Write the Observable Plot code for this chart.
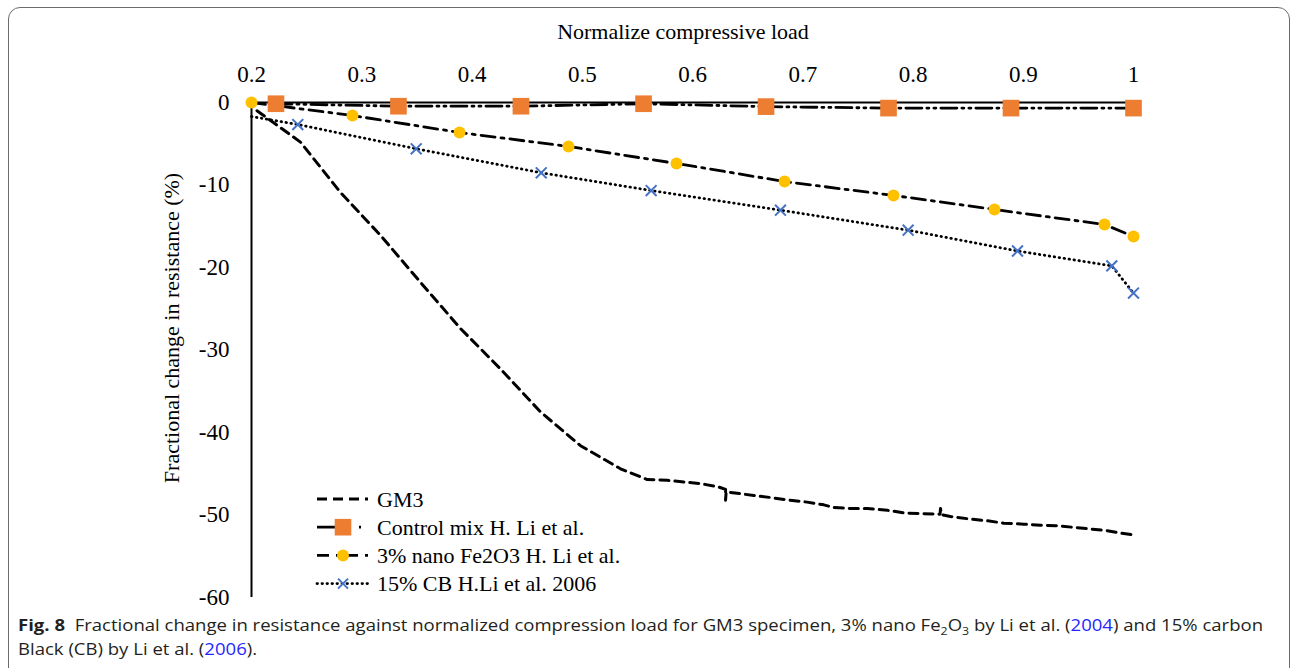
<!DOCTYPE html>
<html><head><meta charset="utf-8">
<script src="https://cdn.jsdelivr.net/npm/d3@7"></script>
<script src="https://cdn.jsdelivr.net/npm/@observablehq/plot@0.6"></script>
<style>
body{margin:0;background:#fff;}
#wrap{position:relative;width:1292px;height:668px;overflow:hidden;background:#fff;}
#frame{position:absolute;left:8px;top:7px;width:1282px;height:720px;border:1.5px solid #6b6b6b;border-radius:12px;box-sizing:border-box;}
#chart{position:absolute;left:0;top:0;}
.serif{font-family:'Liberation Serif','Times New Roman',serif;font-size:22px;color:#000;line-height:22px;white-space:nowrap;}
#xtitle{position:absolute;left:683px;top:21px;transform:translateX(-50%);}
#ytitle{position:absolute;left:172px;top:328px;transform:translate(-50%,-50%) rotate(-90deg);}
#legend{position:absolute;left:310px;top:482px;}
#caption{position:absolute;left:18px;top:613px;font-family:'Open Sans','Noto Sans',sans-serif;font-size:16.5px;line-height:24px;color:#231f20;white-space:nowrap;transform-origin:0 0;}
#caption a{color:#2626ff;text-decoration:none;}
#caption sub{font-size:11px;line-height:0;vertical-align:-4px;}
</style></head><body>
<div id="wrap">
  <div id="frame"></div>
  <div id="chart"></div>
  <div id="xtitle" class="serif">Normalize compressive load</div>
  <div id="ytitle" class="serif">Fractional change in resistance (%)</div>
  <div id="legend"></div>
  <div id="caption"><span id="cap1"><b>Fig. 8</b>&nbsp; Fractional change in resistance against normalized compression load for GM3 specimen, 3% nano Fe<sub>2</sub>O<sub>3</sub> by Li et al. (<a>2004</a>) and 15% carbon</span><br>Black (CB) by Li et al. (<a>2006</a>).</div>
</div>
<script>
// ---- data ----
const xTicks = [0.2, 0.3, 0.4, 0.5, 0.6, 0.7, 0.8, 0.9, 1];
const yTicks = [0, -10, -20, -30, -40, -50, -60];

const seriesNames = ["GM3", "Control mix H. Li et al.", "3% nano Fe2O3 H. Li et al.", "15% CB H.Li et al. 2006"];

// GM3 (dashed line, no markers)
const gm3X = [0.205, 0.2444, 0.2807, 0.317, 0.3533, 0.3896, 0.4259, 0.4621, 0.4984, 0.5347, 0.5589, 0.5771, 0.5921, 0.6073, 0.6224, 0.630, 0.630, 0.6305, 0.6405, 0.6556, 0.6707, 0.6859, 0.704, 0.7191, 0.7282, 0.7433, 0.7585, 0.7766, 0.7917, 0.8098, 0.8245, 0.825, 0.8255, 0.834, 0.8522, 0.8673, 0.8824, 0.9005, 0.9156, 0.9308, 0.9459, 0.961, 0.9761, 0.9882, 1.0];
const gm3Y = [-1.0, -4.8, -10.9, -16.1, -21.8, -27.4, -32.3, -37.5, -41.6, -44.4, -45.7, -45.8, -46.0, -46.2, -46.55, -46.9, -48.2, -47.2, -47.36, -47.64, -47.88, -48.16, -48.44, -48.77, -49.1, -49.21, -49.21, -49.42, -49.75, -49.84, -49.9, -49.2, -49.95, -50.18, -50.5, -50.7, -50.99, -51.11, -51.24, -51.3, -51.5, -51.7, -51.9, -52.2, -52.4];

// Control mix (square markers, long-dash-dot-dot line)
const ctrlX = [0.2222, 0.3333, 0.4444, 0.5556, 0.6667, 0.7778, 0.8889, 1.0];
const ctrlY = [-0.15, -0.45, -0.45, -0.15, -0.5, -0.68, -0.68, -0.68];

// 3% nano Fe2O3 (circle markers, dash-dot line)
const nanoX = [0.2, 0.2916, 0.3887, 0.4875, 0.5855, 0.6835, 0.7823, 0.8739, 0.9737, 1.0];
const nanoY = [0, -1.58, -3.64, -5.33, -7.39, -9.58, -11.27, -12.97, -14.79, -16.24];

// 15% CB (x markers, dotted line); first point is the line start without a marker
const cbX = [0.2, 0.242, 0.3494, 0.4628, 0.5625, 0.6798, 0.7956, 0.8948, 0.9803, 1.0];
const cbY = [-1.7, -2.67, -5.61, -8.52, -10.67, -13.05, -15.48, -18.0, -19.8, -23.1];

const colors = {ctrl: "#ED7D31", nano: "#FFC000", cb: "#4472C4"};
const dashes = {gm3: "9,6", ctrl: "16,5,2,5,2,5", nano: "14,6,3,6", cb: "0.5,4.5"};
const serifFont = "Liberation Serif";

const toRows = (xs, ys) => xs.map((x, i) => ({x, y: ys[i]}));
const gm3 = toRows(gm3X, gm3Y);
const ctrl = toRows(ctrlX, ctrlY);
const nano = toRows(nanoX, nanoY);
const cb = toRows(cbX, cbY);

const chart = Plot.plot({
  width: 1292, height: 610,
  marginLeft: 251, marginRight: 159, marginTop: 102, marginBottom: 13,
  style: {fontFamily: serifFont, fontSize: "23px", color: "#000", background: "transparent", overflow: "visible"},
  x: {domain: [0.2, 1]},
  y: {domain: [-60, 0]},
  marks: [
    Plot.axisX({anchor: "top", ticks: xTicks, tickFormat: d => String(+d.toFixed(1)), tickSize: 0, tickPadding: 21, label: null, fontFamily: serifFont, fontSize: 23, fontVariant: "normal"}),
    Plot.axisY({ticks: yTicks, tickFormat: d => String(d), tickSize: 0, tickPadding: 22, label: null, fontFamily: serifFont, fontSize: 23, fontVariant: "normal"}),
    Plot.ruleY([0], {stroke: "#000", strokeWidth: 2}),
    Plot.ruleX([0.2], {stroke: "#000", strokeWidth: 2}),
    Plot.line(gm3, {x: "x", y: "y", stroke: "#000", strokeWidth: 3, strokeDasharray: dashes.gm3}),
    Plot.line(ctrl, {x: "x", y: "y", stroke: "#000", strokeWidth: 2.8, strokeDasharray: dashes.ctrl}),
    Plot.line(nano, {x: "x", y: "y", stroke: "#000", strokeWidth: 2.8, strokeDasharray: dashes.nano}),
    Plot.line(cb, {x: "x", y: "y", stroke: "#000", strokeWidth: 2.8, strokeDasharray: dashes.cb, strokeLinecap: "round"}),
    Plot.dot(ctrl, {x: "x", y: "y", symbol: "square", r: 9.4, fill: colors.ctrl, stroke: "none"}),
    Plot.dot(nano, {x: "x", y: "y", symbol: "circle", r: 6, fill: colors.nano, stroke: "none"}),
    Plot.dot(cb.slice(1), {x: "x", y: "y", symbol: "times", r: 5, stroke: colors.cb, strokeWidth: 2})
  ]
});
document.getElementById("chart").appendChild(chart);

// ---- legend ----
const legendRows = [
  {name: seriesNames[0], dash: "10,6", marker: null},
  {name: seriesNames[1], dash: "20,22,2,20", marker: "square", color: colors.ctrl},
  {name: seriesNames[2], dash: "12,7,3,7", marker: "circle", color: colors.nano},
  {name: seriesNames[3], dash: "0.5,4.5", marker: "times", color: colors.cb}
];
const rowH = 28.2;
const lsvg = d3.select("#legend").append("svg").attr("width", 360).attr("height", 120)
  .style("overflow", "visible");
legendRows.forEach((r, i) => {
  const cy = 17 + i * rowH;
  const g = lsvg.append("g").attr("transform", `translate(0,${cy})`);
  g.append("line").attr("x1", 7).attr("x2", 58).attr("y1", 0).attr("y2", 0)
    .attr("stroke", "#000").attr("stroke-width", 2.8).attr("stroke-dasharray", r.dash)
    .attr("stroke-linecap", r.marker === "times" ? "round" : "butt");
  if (r.marker === "square") g.append("rect").attr("x", 33 - 8.3).attr("y", -8.3).attr("width", 16.6).attr("height", 16.6).attr("fill", r.color);
  if (r.marker === "circle") g.append("circle").attr("cx", 33).attr("cy", 0).attr("r", 6).attr("fill", r.color);
  if (r.marker === "times") g.append("path").attr("d", "M28,-5L38,5M28,5L38,-5").attr("stroke", r.color).attr("stroke-width", 2).attr("fill", "none");
  g.append("text").attr("x", 67).attr("y", 0).attr("dy", "0.35em")
    .attr("font-family", serifFont).attr("font-size", 22).attr("fill", "#000")
    .text(r.name);
});

// ---- fit caption width ----
const cap = document.getElementById("caption");
const w1 = document.getElementById("cap1").getBoundingClientRect().width;
cap.style.transform = `scaleX(${1245 / w1})`;
</script>
</body></html>
